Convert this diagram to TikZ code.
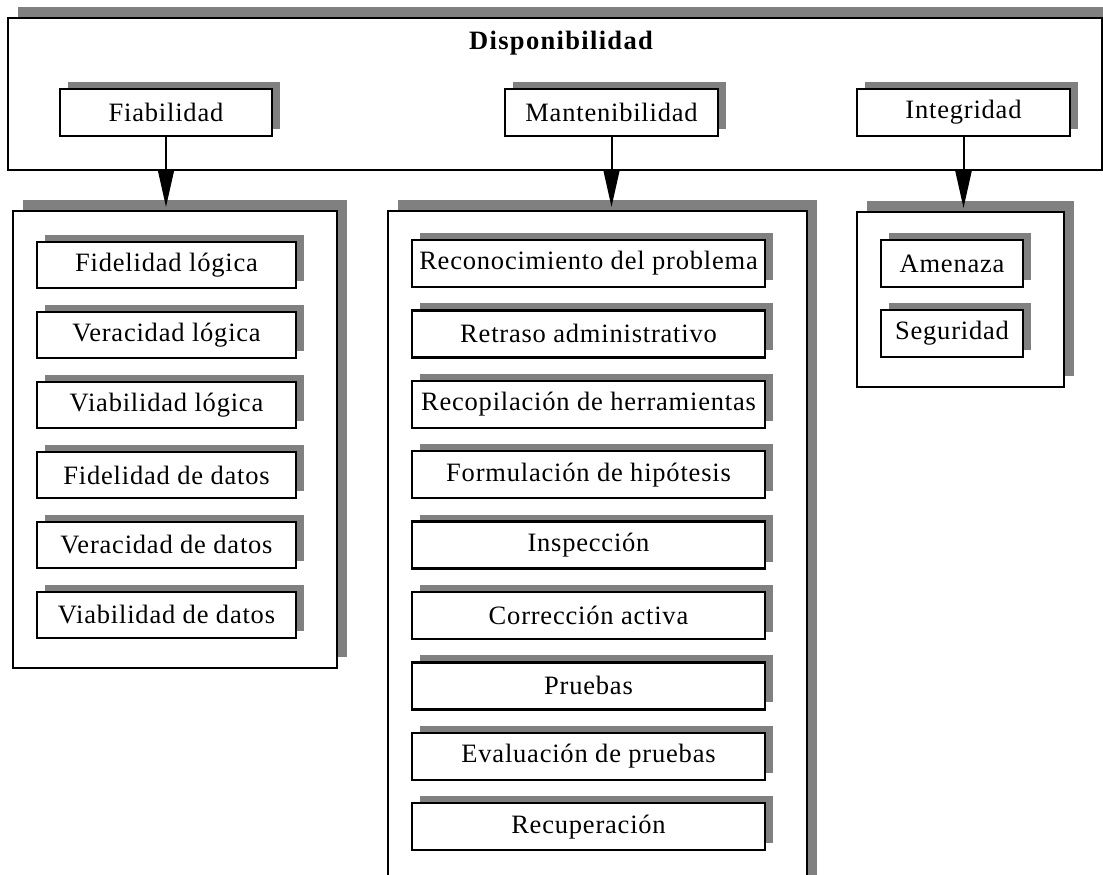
\documentclass[tikz,border=0pt]{standalone}
\usepackage{fontspec}
\setmainfont{Liberation Serif}[LetterSpace=3]
\usetikzlibrary{arrows.meta,shadows}
\definecolor{shadowgray}{RGB}{128,128,128}
\tikzset{
  bigframe/.style={draw=black, line width=2pt, fill=white, inner sep=0pt, outer sep=0pt, anchor=north west,
    general shadow={fill=shadowgray, shadow xshift=10pt, shadow yshift=11pt}},
  itembox/.style={draw=black, line width=2.4pt, fill=white, inner sep=0pt, outer sep=0pt, anchor=north west,
    font=\fontsize{26.5}{30}\selectfont,
    general shadow={fill=shadowgray, shadow xshift=8pt, shadow yshift=7pt}},
  titletext/.style={font=\fontsize{26.5}{30}\selectfont\bfseries\addfontfeature{LetterSpace=5}, inner sep=0pt, anchor=base},
  arr/.style={line width=2pt, -{Triangle[length=37pt,width=16pt]}, shorten >=4pt}
}
\begin{document}
\begin{tikzpicture}[x=1pt,y=-1pt]
\useasboundingbox (0,0) rectangle (1103,875);
% top frame
\node[bigframe, minimum width=1094pt, minimum height=152pt] (top) at (8,18) {};
\node[titletext] (disp) at (561,49) {Disponibilidad};
\node[itembox, minimum width=212pt, minimum height=47pt] (fia) at (60,89) {Fiabilidad};
\node[itembox, minimum width=213pt, minimum height=47pt] (man) at (505,89) {Mantenibilidad};
\node[itembox, minimum width=213pt, minimum height=47pt] (int) at (857,89) {Integridad};
% list frames
\node[bigframe, minimum width=324pt, minimum height=457pt] (fialist) at (13,211) {};
\node[bigframe, minimum width=419pt, minimum height=720pt] (manlist) at (388,211) {};
\node[bigframe, minimum width=207pt, minimum height=175pt] (intlist) at (857,212) {};
% arrows
\draw[arr] (fia.south) -- (fia.south |- fialist.north);
\draw[arr] (man.south) -- (man.south |- manlist.north);
\draw[arr] (int.south) -- (int.south |- intlist.north);
% Fiabilidad items
\node[itembox, minimum width=259pt, minimum height=46pt] (f1) at (37,242) {Fidelidad lógica};
\node[itembox, minimum width=259pt, minimum height=46pt] (f2) at (37,312) {Veracidad lógica};
\node[itembox, minimum width=259pt, minimum height=46pt] (f3) at (37,382) {Viabilidad lógica};
\node[itembox, minimum width=259pt, minimum height=46pt] (f4) at (37,452) {Fidelidad de datos};
\node[itembox, minimum width=259pt, minimum height=46pt] (f5) at (37,522) {Veracidad de datos};
\node[itembox, minimum width=259pt, minimum height=46pt] (f6) at (37,592) {Viabilidad de datos};
% Mantenibilidad items
\node[itembox, minimum width=353pt, minimum height=47pt] (m1) at (412,240) {Reconocimiento del problema};
\node[itembox, minimum width=353pt, minimum height=47pt] (m2) at (412,310.4) {Retraso administrativo};
\node[itembox, minimum width=353pt, minimum height=47pt] (m3) at (412,380.8) {Recopilación de herramientas};
\node[itembox, minimum width=353pt, minimum height=47pt] (m4) at (412,451.2) {Formulación de hipótesis};
\node[itembox, minimum width=353pt, minimum height=47pt] (m5) at (412,521.6) {Inspección};
\node[itembox, minimum width=353pt, minimum height=47pt] (m6) at (412,592) {Corrección activa};
\node[itembox, minimum width=353pt, minimum height=47pt] (m7) at (412,662.4) {Pruebas};
\node[itembox, minimum width=353pt, minimum height=47pt] (m8) at (412,732.8) {Evaluación de pruebas};
\node[itembox, minimum width=353pt, minimum height=47pt] (m9) at (412,803.2) {Recuperación};
% Integridad items
\node[itembox, minimum width=142pt, minimum height=47pt] (i1) at (881,240) {Amenaza};
\node[itembox, minimum width=142pt, minimum height=47pt] (i2) at (881,310) {Seguridad};
\end{tikzpicture}
\end{document}
